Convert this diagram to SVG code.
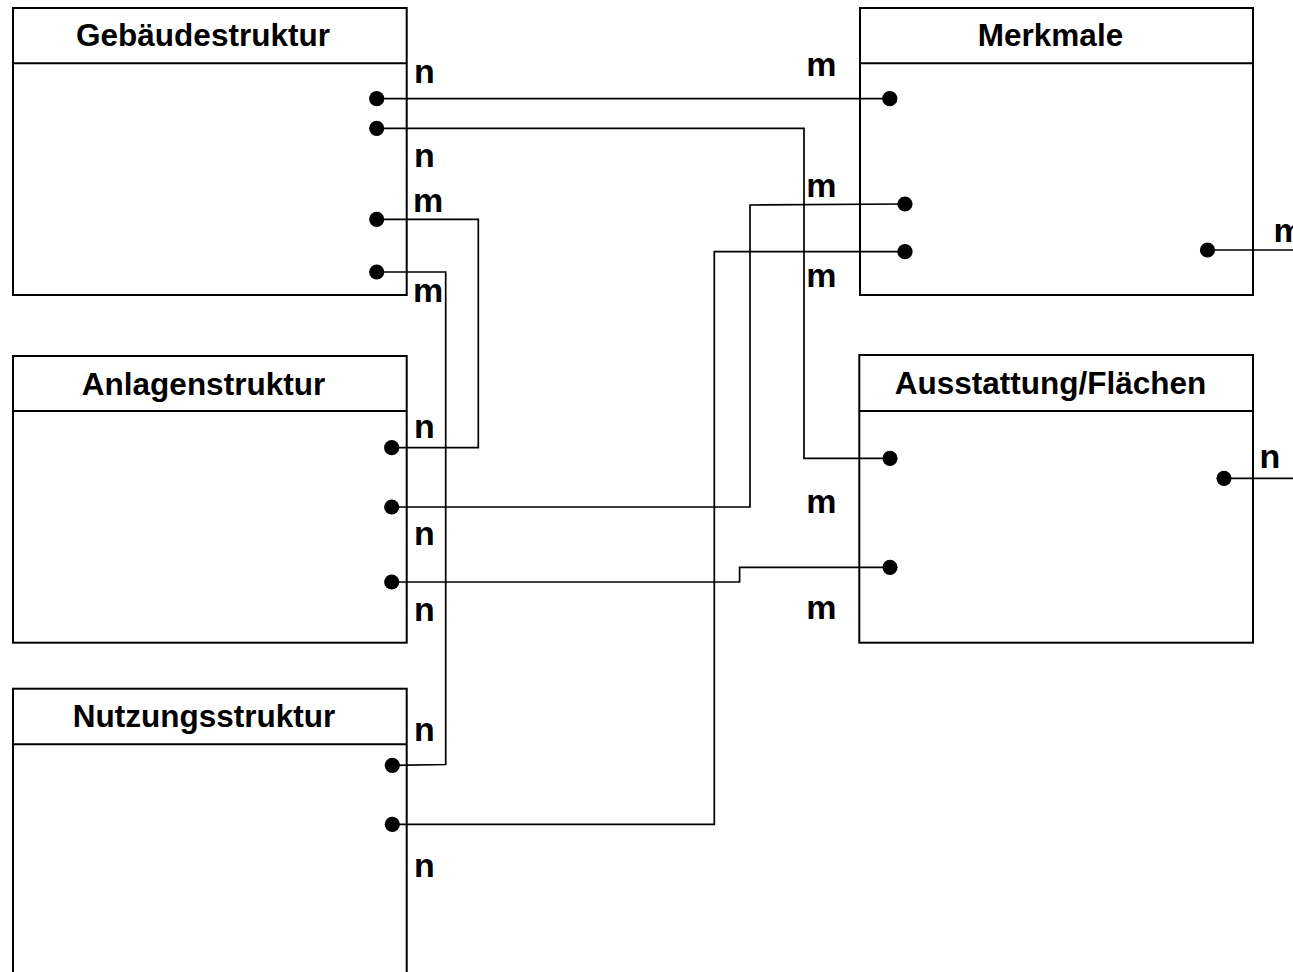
<svg xmlns="http://www.w3.org/2000/svg" width="1293" height="972" viewBox="0 0 1293 972">
<style>
.box{fill:#fff;stroke:#000;stroke-width:2}
.hdr{stroke:#000;stroke-width:2}
.title{font-family:"Liberation Sans",Arial,sans-serif;font-weight:bold;font-size:31.5px;text-anchor:middle;fill:#000}
.lbl{font-family:"Liberation Sans",Arial,sans-serif;font-weight:bold;font-size:34px;fill:#000}
.con{fill:none;stroke:#000;stroke-width:1.7}
.dot{fill:#000}
</style>
<rect width="1293" height="972" fill="#fff"/>
<g id="gebaeudestruktur">
<rect class="box" x="13" y="8" width="393.7" height="287"/>
<line class="hdr" x1="13" y1="63.3" x2="406.7" y2="63.3"/>
<text class="title" x="203" y="46">Gebäudestruktur</text>
</g>
<g id="anlagenstruktur">
<rect class="box" x="13" y="356" width="393.7" height="286.7"/>
<line class="hdr" x1="13" y1="411" x2="406.7" y2="411"/>
<text class="title" x="203.5" y="395">Anlagenstruktur</text>
</g>
<g id="nutzungsstruktur">
<rect class="box" x="13" y="688.7" width="393.7" height="300"/>
<line class="hdr" x1="13" y1="744.3" x2="406.7" y2="744.3"/>
<text class="title" x="204" y="727">Nutzungsstruktur</text>
</g>
<g id="merkmale">
<rect class="box" x="860" y="8" width="393" height="287"/>
<line class="hdr" x1="860" y1="63.3" x2="1253" y2="63.3"/>
<text class="title" x="1050.5" y="46">Merkmale</text>
</g>
<g id="ausstattung">
<rect class="box" x="859.3" y="355" width="393.7" height="287.7"/>
<line class="hdr" x1="859.3" y1="411" x2="1253" y2="411"/>
<text class="title" x="1050.5" y="394">Ausstattung/Flächen</text>
</g>
<g id="connectors">
<polyline class="con" points="376.7,98.7 889.8,98.7"/>
<polyline class="con" points="376.7,128.3 804,128.3 804,458.3 890,458.3"/>
<polyline class="con" points="376.7,219.3 478.3,219.3 478.3,447.7 391.7,447.7"/>
<polyline class="con" points="376.7,272 445.7,272 445.7,764.5 392.3,765.3"/>
<polyline class="con" points="905,204 750,205 750,507 391.7,507"/>
<polyline class="con" points="905,251.7 714.3,251.7 714.3,824.3 392.3,824.3"/>
<polyline class="con" points="391.7,582 739.6,582 739.6,567.3 890,567.3"/>
<polyline class="con" points="1207.5,250 1293,250"/>
<polyline class="con" points="1224,478.3 1293,478.3"/>
<circle class="dot" cx="376.7" cy="98.7" r="7.6"/>
<circle class="dot" cx="376.7" cy="128.3" r="7.6"/>
<circle class="dot" cx="376.7" cy="219.3" r="7.6"/>
<circle class="dot" cx="376.7" cy="272" r="7.6"/>
<circle class="dot" cx="391.7" cy="447.7" r="7.6"/>
<circle class="dot" cx="391.7" cy="507" r="7.6"/>
<circle class="dot" cx="391.7" cy="582" r="7.6"/>
<circle class="dot" cx="392.3" cy="765.3" r="7.6"/>
<circle class="dot" cx="392.3" cy="824.3" r="7.6"/>
<circle class="dot" cx="889.8" cy="98.7" r="7.6"/>
<circle class="dot" cx="905" cy="204" r="7.6"/>
<circle class="dot" cx="905" cy="251.7" r="7.6"/>
<circle class="dot" cx="1207.5" cy="250" r="7.6"/>
<circle class="dot" cx="890" cy="458.3" r="7.6"/>
<circle class="dot" cx="890" cy="567.3" r="7.6"/>
<circle class="dot" cx="1224" cy="478.3" r="7.6"/>
</g>
<g id="labels">
<text class="lbl" x="414" y="83">n</text>
<text class="lbl" x="414" y="167">n</text>
<text class="lbl" x="413" y="212">m</text>
<text class="lbl" x="413" y="302">m</text>
<text class="lbl" x="414" y="438">n</text>
<text class="lbl" x="414" y="545">n</text>
<text class="lbl" x="414" y="620.7">n</text>
<text class="lbl" x="414" y="740.7">n</text>
<text class="lbl" x="414" y="876.7">n</text>
<text class="lbl" x="806.3" y="76">m</text>
<text class="lbl" x="806.3" y="196.7">m</text>
<text class="lbl" x="806.3" y="287">m</text>
<text class="lbl" x="806.3" y="513.3">m</text>
<text class="lbl" x="806.3" y="619">m</text>
<text class="lbl" x="1273.5" y="241.7">m</text>
<text class="lbl" x="1259.5" y="468">n</text>
</g>
</svg>
